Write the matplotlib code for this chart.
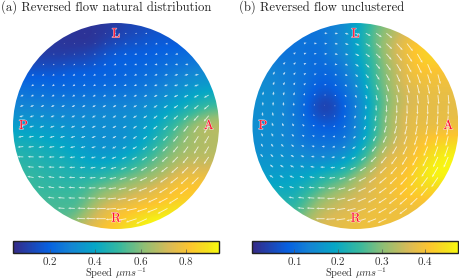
import numpy as np
import matplotlib
matplotlib.use('Agg')
import matplotlib.pyplot as plt
import matplotlib.patheffects as pe
from matplotlib.colors import LinearSegmentedColormap
from matplotlib.patches import Circle

plt.rcParams['font.family'] = ['cmr10', 'DejaVu Serif']
plt.rcParams['mathtext.fontset'] = 'cm'
plt.rcParams['axes.formatter.use_mathtext'] = True
plt.rcParams['axes.unicode_minus'] = False

parula = LinearSegmentedColormap.from_list('parula', [
    (0.0, '#352a87'), (0.17, '#0760e0'), (0.28, '#1485d4'), (0.40, '#06a7c6'),
    (0.52, '#38b99e'), (0.64, '#92bf73'), (0.76, '#d9ba56'), (0.86, '#fdc52f'),
    (0.95, '#f5e31c'), (1.0, '#f9fb0e')])

titles = ['(a) Reversed flow natural distribution', '(b) Reversed flow unclustered']
labels = ['L', 'P', 'A', 'R']
cbar_ticks_a = [0.2, 0.4, 0.6, 0.8]
cbar_ticks_b = [0.1, 0.2, 0.3, 0.4]
limits_a = [0.037, 0.946]
limits_b = [0.004, 0.476]

# speed x100, rows top to bottom
speed_a = [
    [7, 7, 7, 7, 7, 7, 7, 7, 7, 8, 9, 11, 12, 13, 14, 15, 15, 15, 15, 15, 15],
    [7, 7, 7, 7, 7, 7, 7, 6, 7, 8, 10, 12, 13, 15, 16, 16, 16, 16, 16, 16, 16],
    [8, 8, 8, 8, 8, 7, 7, 7, 8, 11, 13, 15, 16, 17, 18, 18, 18, 19, 20, 20, 20],
    [9, 9, 9, 9, 9, 9, 10, 11, 13, 16, 18, 19, 19, 19, 20, 21, 22, 23, 23, 23, 23],
    [13, 13, 13, 13, 13, 14, 15, 15, 17, 19, 20, 20, 20, 21, 22, 23, 24, 25, 27, 27, 27],
    [18, 18, 18, 18, 18, 19, 20, 20, 20, 20, 20, 21, 22, 23, 24, 26, 28, 30, 31, 32, 32],
    [22, 22, 22, 22, 21, 21, 21, 21, 21, 22, 22, 23, 24, 25, 27, 29, 31, 33, 35, 36, 36],
    [26, 26, 25, 25, 24, 24, 24, 25, 25, 25, 26, 26, 27, 28, 30, 32, 35, 38, 41, 43, 44],
    [29, 29, 29, 28, 28, 28, 28, 28, 28, 29, 29, 29, 30, 32, 34, 37, 40, 43, 47, 50, 51],
    [33, 33, 33, 32, 31, 31, 30, 31, 31, 31, 31, 32, 33, 35, 38, 42, 46, 51, 56, 60, 62],
    [37, 37, 36, 36, 35, 34, 33, 33, 32, 32, 32, 33, 35, 38, 42, 47, 53, 60, 66, 68, 68],
    [42, 41, 41, 39, 38, 37, 35, 34, 33, 32, 32, 33, 36, 40, 45, 51, 58, 63, 66, 67, 67],
    [45, 45, 44, 43, 42, 40, 38, 36, 34, 33, 34, 36, 39, 44, 50, 56, 61, 64, 66, 67, 67],
    [48, 47, 46, 45, 44, 43, 41, 39, 37, 37, 38, 41, 45, 50, 55, 60, 64, 67, 68, 68, 68],
    [50, 49, 48, 47, 46, 46, 44, 43, 42, 43, 45, 48, 52, 56, 60, 64, 69, 72, 72, 72, 72],
    [52, 51, 50, 49, 48, 47, 47, 47, 48, 50, 54, 57, 60, 63, 66, 71, 76, 78, 78, 78, 78],
    [52, 52, 51, 50, 50, 50, 50, 52, 56, 59, 62, 65, 68, 71, 75, 78, 82, 82, 82, 82, 82],
    [52, 52, 52, 52, 52, 52, 52, 55, 61, 66, 69, 72, 75, 77, 79, 81, 83, 83, 83, 83, 83],
    [53, 53, 53, 53, 53, 53, 53, 60, 68, 74, 78, 79, 81, 83, 85, 88, 90, 90, 90, 90, 90],
    [55, 55, 55, 55, 55, 55, 60, 67, 73, 78, 81, 84, 88, 92, 94, 94, 94, 94, 94, 94, 94],
    [60, 60, 60, 60, 60, 60, 65, 72, 78, 82, 85, 90, 93, 94, 94, 94, 94, 94, 94, 94, 94],
]

speed_b = [
    [11, 11, 11, 11, 11, 11, 11, 12, 13, 15, 18, 22, 27, 30, 33, 36, 38, 38, 38, 38, 38],
    [11, 11, 11, 11, 11, 11, 11, 12, 13, 15, 19, 23, 28, 31, 34, 37, 39, 40, 40, 40, 40],
    [11, 11, 11, 11, 11, 11, 11, 11, 13, 15, 18, 23, 28, 32, 36, 39, 41, 42, 43, 43, 43],
    [12, 12, 12, 11, 11, 11, 10, 11, 13, 14, 18, 22, 27, 32, 36, 39, 42, 43, 43, 43, 43],
    [13, 13, 13, 12, 12, 11, 10, 10, 11, 13, 17, 21, 26, 31, 35, 38, 41, 42, 42, 41, 41],
    [14, 14, 14, 13, 12, 11, 10, 9, 10, 12, 15, 20, 26, 30, 34, 38, 40, 40, 40, 40, 40],
    [15, 15, 14, 13, 12, 11, 9, 8, 9, 11, 14, 19, 25, 30, 34, 37, 38, 39, 39, 39, 39],
    [15, 15, 15, 14, 13, 10, 8, 6, 7, 10, 13, 18, 24, 29, 33, 36, 37, 38, 38, 38, 38],
    [15, 15, 15, 14, 12, 10, 6, 3, 5, 9, 12, 17, 23, 29, 33, 36, 37, 38, 38, 38, 38],
    [15, 15, 15, 14, 12, 10, 7, 5, 6, 9, 13, 18, 24, 30, 34, 37, 38, 38, 38, 38, 38],
    [15, 15, 15, 14, 13, 11, 9, 8, 8, 10, 13, 18, 24, 30, 34, 37, 38, 38, 38, 39, 39],
    [15, 15, 15, 14, 13, 11, 10, 10, 10, 11, 14, 19, 25, 31, 35, 37, 39, 40, 41, 41, 41],
    [15, 15, 15, 15, 14, 13, 12, 12, 12, 13, 17, 22, 28, 33, 36, 38, 40, 42, 44, 45, 45],
    [16, 16, 16, 16, 15, 15, 14, 14, 15, 17, 20, 25, 31, 36, 38, 39, 41, 44, 46, 47, 47],
    [17, 17, 17, 17, 17, 17, 17, 18, 19, 21, 25, 30, 34, 38, 39, 40, 43, 46, 47, 47, 47],
    [18, 18, 18, 18, 19, 19, 21, 23, 25, 27, 31, 34, 37, 39, 40, 41, 44, 46, 47, 47, 47],
    [20, 20, 20, 20, 20, 22, 24, 27, 29, 31, 34, 36, 38, 39, 40, 42, 43, 44, 44, 44, 44],
    [22, 22, 22, 22, 22, 25, 28, 31, 33, 35, 36, 37, 38, 39, 40, 41, 41, 41, 41, 41, 41],
    [24, 24, 24, 24, 24, 27, 31, 34, 35, 36, 37, 38, 39, 39, 39, 39, 39, 39, 39, 39, 39],
    [26, 26, 26, 26, 28, 30, 34, 36, 37, 38, 38, 39, 39, 39, 39, 39, 39, 39, 39, 39, 39],
    [28, 28, 28, 28, 30, 33, 35, 37, 38, 38, 39, 39, 39, 39, 39, 39, 39, 39, 39, 39, 39],
]

# arrow direction in degrees on the inner 19x19 grid
angle_a = [
    [215, 215, 215, 215, 215, 212, 210, 205, 205, 200, 200, 195, 195, 195, 190, 190, 190, 190, 190],
    [215, 215, 215, 215, 215, 212, 210, 205, 205, 200, 200, 195, 195, 195, 190, 190, 190, 190, 190],
    [215, 215, 215, 215, 215, 215, 212, 210, 205, 205, 200, 200, 195, 195, 195, 190, 190, 190, 190],
    [220, 220, 220, 218, 215, 215, 212, 210, 208, 205, 200, 200, 198, 195, 195, 192, 190, 190, 190],
    [215, 215, 215, 215, 215, 212, 210, 210, 208, 205, 205, 202, 200, 198, 195, 195, 192, 190, 190],
    [210, 210, 210, 212, 212, 212, 210, 210, 208, 208, 205, 205, 205, 202, 200, 198, 198, 198, 198],
    [205, 205, 208, 208, 210, 210, 210, 210, 210, 208, 208, 208, 208, 208, 208, 208, 208, 208, 208],
    [200, 202, 205, 205, 208, 208, 210, 210, 210, 210, 210, 210, 212, 212, 215, 215, 218, 220, 220],
    [198, 200, 200, 202, 205, 205, 208, 208, 210, 210, 212, 212, 215, 218, 220, 222, 225, 228, 230],
    [195, 195, 198, 200, 200, 202, 205, 205, 208, 210, 212, 215, 218, 220, 224, 228, 232, 235, 238],
    [190, 190, 192, 195, 195, 198, 200, 202, 205, 208, 212, 215, 218, 222, 226, 230, 234, 238, 240],
    [185, 185, 188, 188, 190, 192, 195, 198, 202, 205, 208, 212, 216, 220, 225, 230, 234, 238, 240],
    [178, 178, 180, 182, 185, 188, 190, 194, 198, 202, 206, 210, 214, 218, 222, 226, 230, 234, 236],
    [175, 175, 175, 178, 180, 183, 186, 190, 194, 198, 202, 206, 210, 214, 218, 222, 225, 228, 230],
    [170, 170, 170, 172, 175, 178, 182, 185, 188, 192, 196, 200, 205, 210, 214, 218, 222, 225, 228],
    [168, 168, 170, 170, 172, 175, 178, 182, 185, 188, 192, 198, 202, 208, 212, 215, 218, 220, 222],
    [170, 170, 170, 172, 175, 178, 178, 180, 183, 186, 190, 195, 200, 205, 208, 212, 215, 218, 220],
    [175, 175, 175, 175, 176, 178, 178, 180, 182, 185, 188, 192, 198, 202, 208, 210, 212, 214, 216],
    [178, 178, 178, 178, 178, 178, 178, 178, 180, 185, 190, 198, 205, 208, 210, 212, 214, 216, 218],
]

angle_b = [
    [41, 36, 30, 24, 17, 9, 2, -7, -15, -22, -28, -34, -39, -44, -48, -51, -54, -57, -59],
    [46, 40, 35, 28, 20, 11, 2, -8, -17, -25, -32, -39, -44, -48, -52, -56, -58, -61, -63],
    [51, 46, 40, 32, 23, 13, 2, -10, -20, -29, -37, -44, -49, -53, -57, -60, -63, -65, -67],
    [57, 52, 46, 38, 28, 16, 3, -12, -24, -35, -43, -50, -55, -59, -62, -65, -67, -69, -71],
    [64, 60, 54, 47, 35, 21, 4, -16, -32, -43, -51, -58, -63, -66, -69, -71, -73, -75, -76],
    [72, 68, 64, 58, 46, 30, 6, -23, -42, -54, -62, -67, -71, -73, -75, -77, -78, -79, -80],
    [80, 78, 76, 72, 64, 46, 10, -39, -60, -69, -74, -78, -80, -81, -82, -83, -84, -84, -85],
    [89, 89, 89, 88, 87, 85, 60, -85, -87, -88, -88, -89, -89, -89, -89, -89, -89, -90, -90],
    [99, 101, 103, 107, 115, 130, 170, -138, -118, -109, -104, -101, -99, -98, -97, -96, -96, -95, -95],
    [107, 110, 115, 121, 132, 149, 174, -156, -136, -124, -117, -112, -108, -106, -104, -102, -101, -100, -99],
    [115, 119, 125, 132, 144, 158, 176, -163, -148, -136, -128, -121, -117, -113, -110, -108, -106, -105, -104],
    [122, 127, 133, 141, 152, 164, 177, -168, -155, -145, -136, -129, -124, -120, -117, -114, -112, -110, -109],
    [129, 134, 140, 147, 157, 167, 178, -170, -160, -150, -143, -136, -130, -126, -122, -119, -117, -115, -113],
    [136, 141, 146, 153, 160, 169, 178, -172, -163, -155, -147, -141, -136, -131, -128, -124, -122, -120, -118],
    [142, 147, 152, 158, 165, 172, 178, -173, -165, -158, -152, -145, -140, -136, -132, -129, -126, -124, -122],
    [150, 155, 160, 165, 170, 174, 179, -174, -167, -160, -155, -149, -144, -140, -136, -133, -130, -128, -126],
    [155, 160, 165, 168, 172, 176, 179, -175, -168, -162, -157, -152, -147, -143, -139, -136, -133, -131, -129],
    [160, 165, 170, 172, 174, 177, 180, -175, -170, -165, -160, -155, -150, -146, -143, -140, -137, -135, -133],
    [165, 170, 173, 175, 177, 178, 180, -176, -172, -167, -162, -158, -154, -150, -147, -144, -141, -139, -137],
]

W, H = 460, 279
fig = plt.figure(figsize=(W / 100, H / 100), dpi=100)


def px_axes(x0, y0, x1, y1):
    return fig.add_axes([x0 / W, 1 - y1 / H, (x1 - x0) / W, (y1 - y0) / H])


def draw_panel(x0, title, title_x, speed, angle, limits, ticks, arrow_k):
    ax = px_axes(x0, 23, x0 + 206, 229)
    s = np.array(speed) / 100
    im = ax.imshow(s, extent=[-10.5, 10.5, -10.5, 10.5], origin='upper', cmap=parula,
                   vmin=limits[0], vmax=limits[1], interpolation='bicubic')
    im.set_clip_path(Circle((0, 0), 10, transform=ax.transData))

    grid = np.arange(-9, 10)
    gx, gy = np.meshgrid(grid, -grid)
    inside = gx**2 + gy**2 <= 90
    theta = np.radians(np.array(angle))
    inner = s[1:-1, 1:-1]
    u = inner * np.cos(theta)
    v = inner * np.sin(theta)
    ax.quiver(gx[inside], gy[inside], u[inside], v[inside], color='white', alpha=0.75,
              angles='xy', scale_units='xy', scale=1 / arrow_k, units='dots', width=0.9,
              headwidth=2.5, headlength=3, headaxislength=2.6, minlength=0.5, pivot='tail')

    for name, (lx, ly) in zip(labels, [(0, 8.9), (-9.0, 0), (9.0, 0), (0, -9.0)]):
        ax.text(lx, ly, name, color='#ff1030', fontsize=9.5, ha='center', va='center',
                path_effects=[pe.withStroke(linewidth=0.8, foreground='#ffffffb0')])

    ax.set_xlim(-10, 10)
    ax.set_ylim(-10, 10)
    ax.axis('off')
    fig.text(title_x / W, 1 - 7 / H, title, fontsize=9.1, ha='left', va='center', color='#222222')

    cax = px_axes(x0, 240.5, x0 + 206, 253)
    cb = fig.colorbar(im, cax=cax, orientation='horizontal')
    cb.set_ticks(ticks)
    cb.ax.tick_params(direction='in', length=3, width=0.5, color='#555555', labelsize=8,
                      pad=1.5, labelcolor='#333333')
    cb.outline.set_linewidth(1.0)
    cb.outline.set_edgecolor('#222222')
    cb.set_label(r'Speed $\mu m s^{-1}$', fontsize=7.5, labelpad=-1.5, color='#333333')


draw_panel(13, titles[0], 1, speed_a, angle_a, limits_a, cbar_ticks_a, 1.25)
draw_panel(252.5, titles[1], 239, speed_b, angle_b, limits_b, cbar_ticks_b, 2.4)

fig.savefig('out.png', dpi=100)
